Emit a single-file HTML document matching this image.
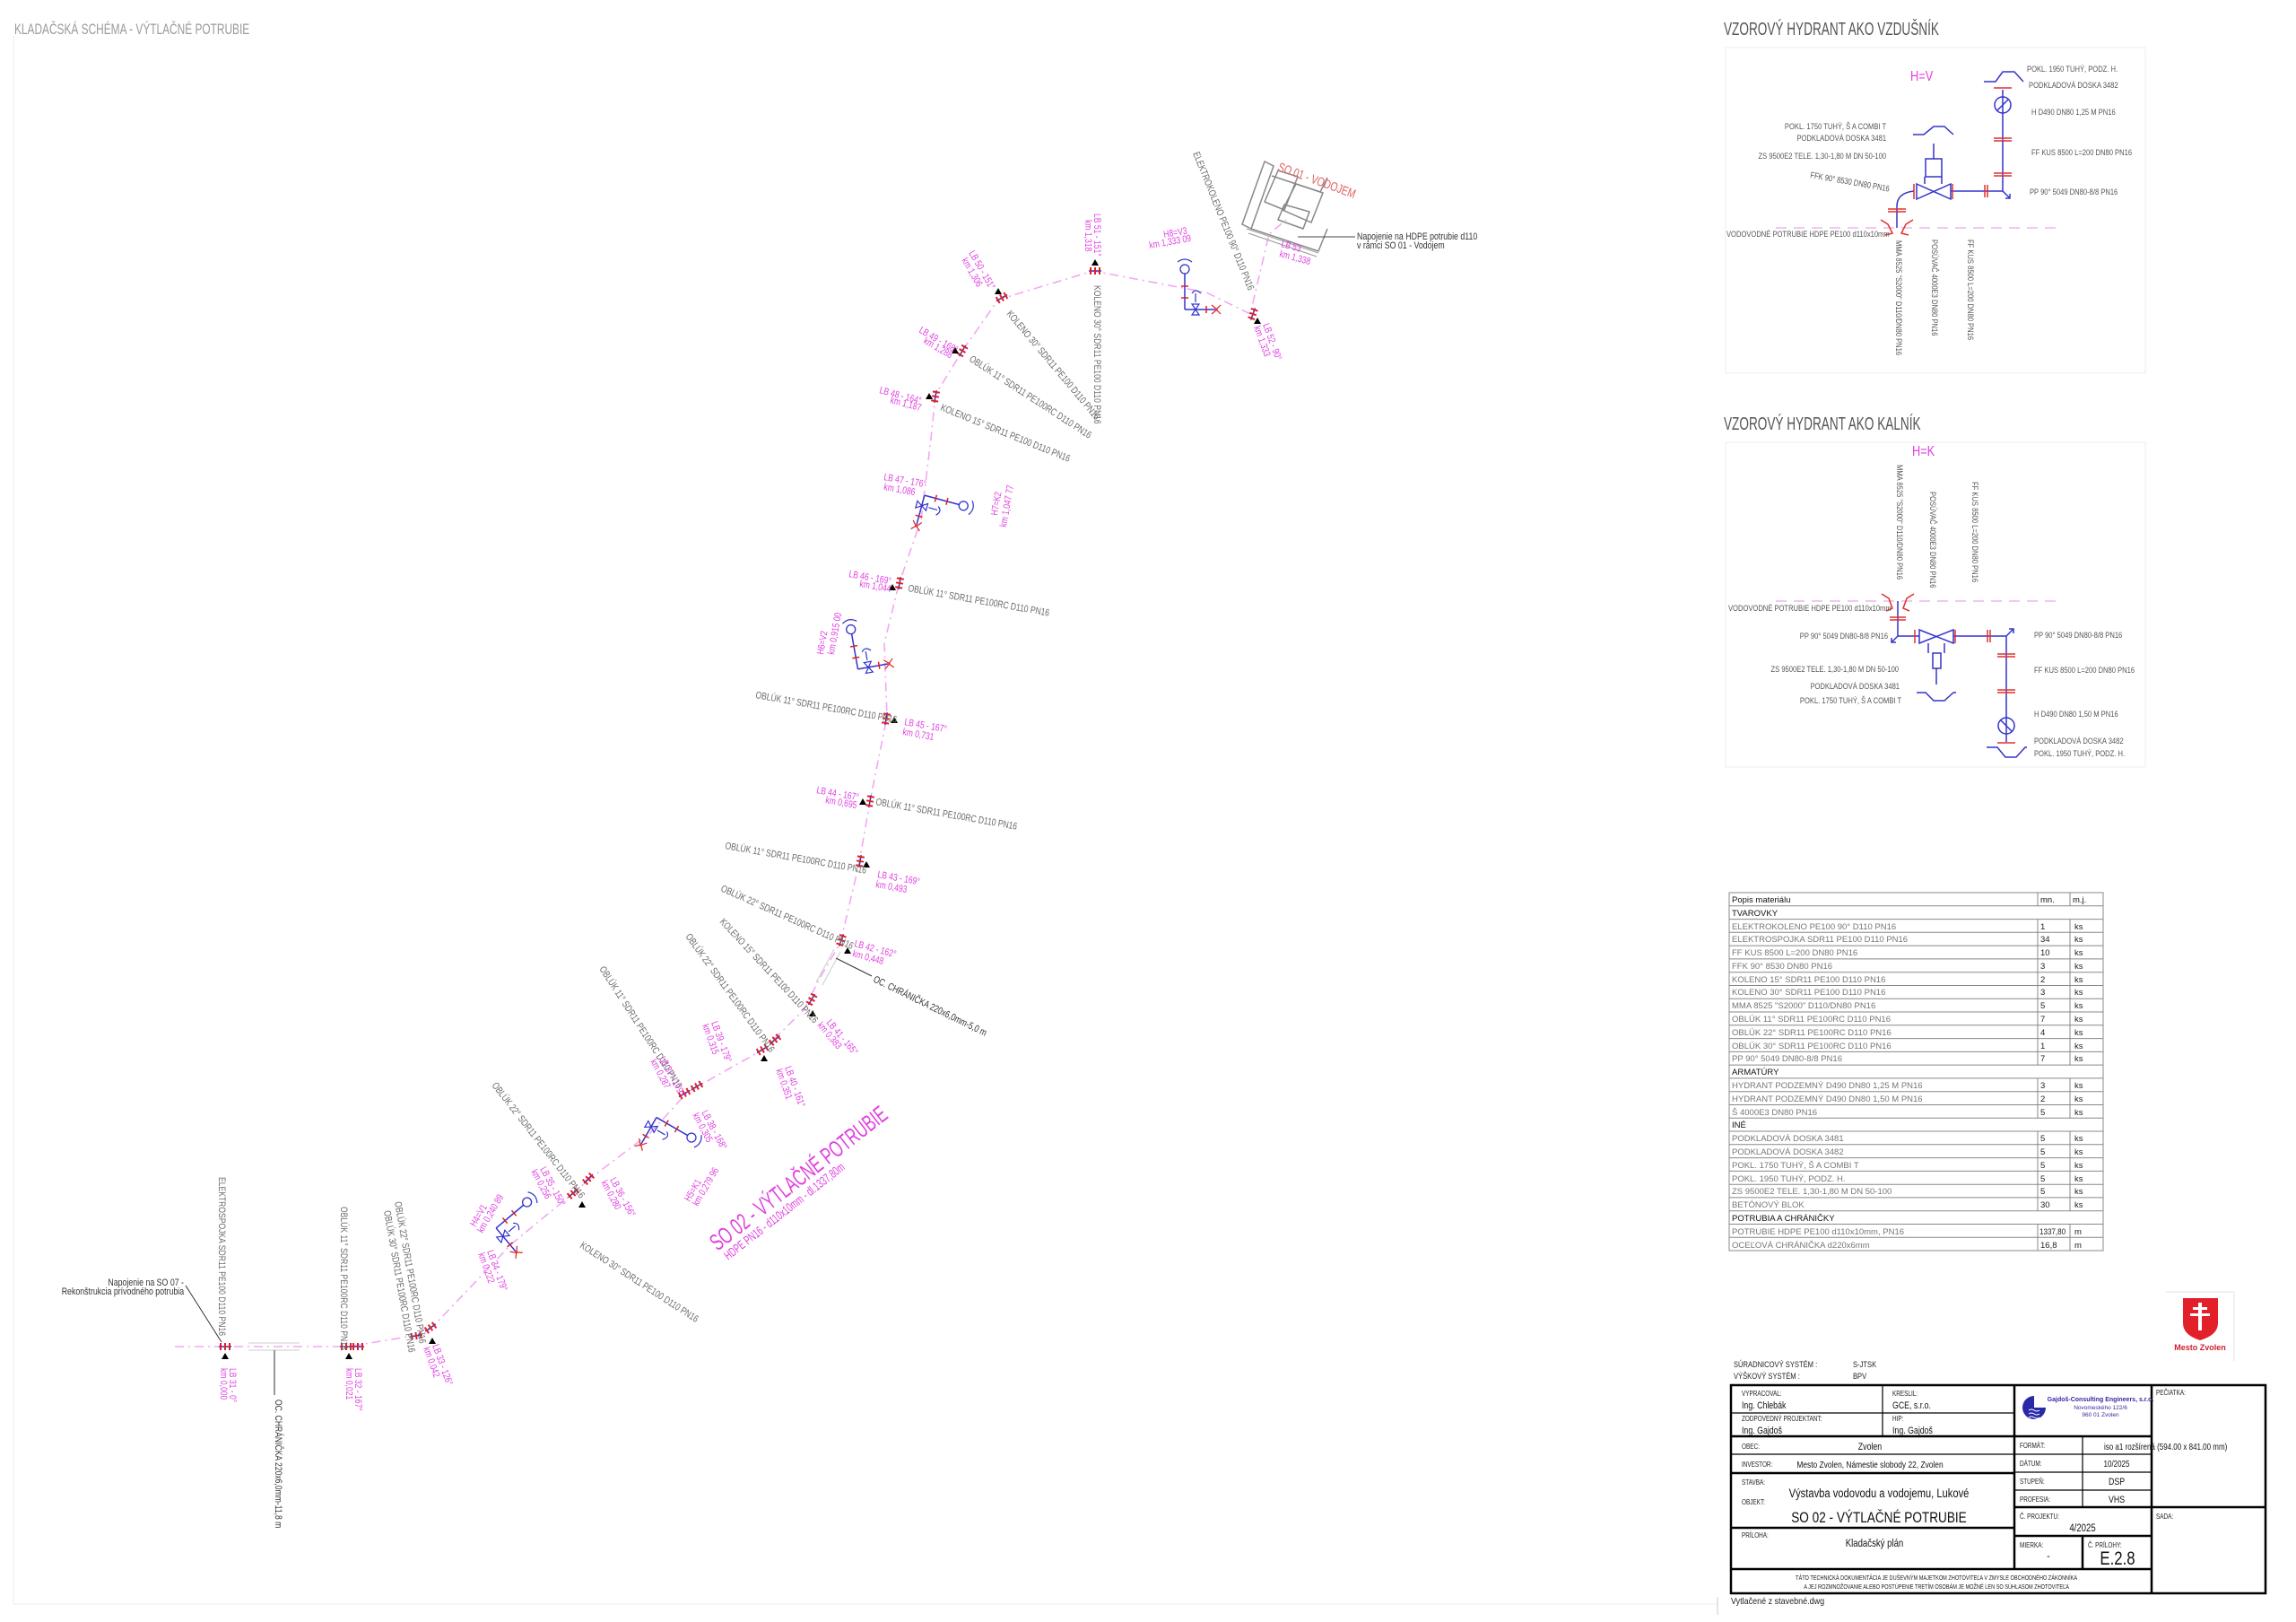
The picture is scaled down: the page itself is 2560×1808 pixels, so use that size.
<!DOCTYPE html>
<html><head><meta charset="utf-8">
<style>
html,body{margin:0;padding:0;background:#fff;}
svg{display:block;}
text{font-family:"Liberation Sans Narrow","Liberation Sans",sans-serif;}
.g{fill:#6a6a6a;font-size:11px;}
.m{fill:#e040e0;font-size:11px;}
.t{fill:#555;font-size:9.5px;}
.cl,.cr,.cc{transform-box:fill-box;transform:scaleX(var(--s,0.8));}
.cl{transform-origin:0% 50%;}
.cr{transform-origin:100% 50%;}
.cc{transform-origin:50% 50%;}
</style></head>
<body>
<svg width="2560" height="1808" viewBox="0 0 2560 1808" xmlns="http://www.w3.org/2000/svg">
<defs>
<g id="fit">
  <line x1="-7" y1="0" x2="7" y2="0" stroke="#3333cc" stroke-width="1.5"/>
  <line x1="-5" y1="-4" x2="-5" y2="4" stroke="#e02020" stroke-width="2"/>
  <line x1="0" y1="-4" x2="0" y2="4" stroke="#e02020" stroke-width="2"/>
  <line x1="5" y1="-4" x2="5" y2="4" stroke="#e02020" stroke-width="2"/>
</g>
<path id="tri" d="M0,-4 L4,3 L-4,3 Z" fill="#000"/>
<g id="hyd">
  <line x1="0" y1="0" x2="0" y2="-34" stroke="#3333cc" stroke-width="1.5"/>
  <line x1="0" y1="-34" x2="40" y2="-34" stroke="#3333cc" stroke-width="1.5"/>
  <line x1="-4" y1="-10" x2="4" y2="-10" stroke="#e02020" stroke-width="1.5"/>
  <line x1="13" y1="-38" x2="13" y2="-30" stroke="#e02020" stroke-width="1.5"/>
  <line x1="26" y1="-38" x2="26" y2="-30" stroke="#e02020" stroke-width="1.5"/>
  <circle cx="45" cy="-34" r="5" fill="none" stroke="#3333cc" stroke-width="1.3"/>
  <path d="M-6,-18 L6,-26 L6,-18 L-6,-26 Z" fill="none" stroke="#3333cc" stroke-width="1.2"/>
  <path d="M8,-22 L18,-22 M18,-26 q6,4 0,10" fill="none" stroke="#3333cc" stroke-width="1.2"/>
  <path d="M53,-42 q6,8 0,16" fill="none" stroke="#3333cc" stroke-width="1.2"/>
  <path d="M-5,-4 L0,2 L5,-4 M-5,6 L0,1 L5,6" fill="none" stroke="#e02020" stroke-width="1.2"/>
</g>
</defs>

<line x1="15" y1="40" x2="15" y2="1788" stroke="#eeeeee" stroke-width="1"/>
<line x1="15" y1="1788" x2="1915" y2="1788" stroke="#eeeeee" stroke-width="1"/>
<line x1="1915" y1="1780" x2="1915" y2="1800" stroke="#cccccc" stroke-width="1"/>
<text x="16" y="38" fill="#9a9a9a" font-size="17" class="cl" style="--s:0.7">KLADAČSKÁ SCHÉMA - VÝTLAČNÉ POTRUBIE</text>

<!-- ROUTE -->
<polyline fill="none" stroke="#f2a8f2" stroke-width="1.6" stroke-dasharray="10,5,2,5"
 points="195,1501 249,1501 388,1501 473,1487 489,1472 571,1386 639,1330 660,1312 725,1263 766,1218 815,1190 851,1170 897,1125 913,1092 937,1051 958,962 970,893 989,799 986,717 1002,652 1027,579 1038,489 1043,440 1073,391 1113,334 1219,302 1345,326 1394,350 1415,261 1434,245"/>
<line x1="277" y1="1497" x2="334" y2="1497" stroke="#cccccc"/>
<line x1="277" y1="1505" x2="334" y2="1505" stroke="#cccccc"/>
<line x1="910" y1="1095" x2="930" y2="1058" stroke="#cccccc"/>
<line x1="917" y1="1098" x2="937" y2="1061" stroke="#cccccc"/>

<use href="#fit" transform="translate(251,1501)"/>
<use href="#fit" transform="translate(386,1501)"/><use href="#fit" transform="translate(399,1501)"/>
<use href="#fit" transform="translate(464,1489) rotate(-10)"/><use href="#fit" transform="translate(480,1480) rotate(-35)"/>
<use href="#fit" transform="translate(639,1330) rotate(-40)"/><use href="#fit" transform="translate(656,1314) rotate(-45)"/>
<use href="#fit" transform="translate(763,1219) rotate(-30)"/><use href="#fit" transform="translate(777,1211) rotate(-30)"/>
<use href="#fit" transform="translate(850,1170) rotate(-30)"/><use href="#fit" transform="translate(864,1159) rotate(-40)"/>
<use href="#fit" transform="translate(905,1114) rotate(-60)"/><use href="#fit" transform="translate(938,1048) rotate(-70)"/>
<use href="#fit" transform="translate(959,960) rotate(-80)"/><use href="#fit" transform="translate(970,893) rotate(-80)"/>
<use href="#fit" transform="translate(988,801) rotate(-80)"/><use href="#fit" transform="translate(1003,650) rotate(-80)"/>
<use href="#fit" transform="translate(1043,442) rotate(-80)"/><use href="#fit" transform="translate(1073,391) rotate(-60)"/>
<use href="#fit" transform="translate(1117,332) rotate(-30)"/><use href="#fit" transform="translate(1221,302)"/>
<use href="#fit" transform="translate(1397,350) rotate(-70)"/>
<use href="#tri" transform="translate(251,1512)"/><use href="#tri" transform="translate(389,1512)"/>
<use href="#tri" transform="translate(482,1495)"/><use href="#tri" transform="translate(649,1343)"/>
<use href="#tri" transform="translate(852,1180)"/><use href="#tri" transform="translate(906,1130)"/>
<use href="#tri" transform="translate(945,1060)"/><use href="#tri" transform="translate(966,964)"/>
<use href="#tri" transform="translate(962,894)"/><use href="#tri" transform="translate(997,803)"/>
<use href="#tri" transform="translate(995,655)"/><use href="#tri" transform="translate(1036,442)"/>
<use href="#tri" transform="translate(1065,391)"/><use href="#tri" transform="translate(1113,325)"/>
<use href="#tri" transform="translate(1221,293)"/><use href="#tri" transform="translate(1402,358)"/>

<use href="#hyd" transform="translate(575,1395) rotate(-40)"/>
<use href="#hyd" transform="translate(715,1275) rotate(30)"/>
<use href="#hyd" transform="translate(990,740) rotate(-100)"/>
<use href="#hyd" transform="translate(1022,585) rotate(15)"/>
<use href="#hyd" transform="translate(1355,345) rotate(-90)"/>

<!-- vodojem -->
<g fill="none" stroke="#888" stroke-width="1.5">
<path d="M1385,250 L1410,180 L1420,185 L1395,255 Z"/>
<path d="M1395,255 L1470,280 L1480,255"/>
<path d="M1410,225 L1425,190 L1447,197 L1432,234 Z"/>
<path d="M1430,234 L1445,205 L1475,215 L1462,248 Z"/>
<path d="M1425,245 L1432,228 L1460,236 L1453,255 Z"/>
<path d="M1418,196 L1472,214 L1480,198"/>
</g>
<g stroke="#999" stroke-width="1">
<line x1="1390" y1="255" x2="1470" y2="282"/><line x1="1392" y1="260" x2="1468" y2="286"/>
</g>
<text transform="translate(1424,190) rotate(20) scale(0.75,1)" fill="#e06060" font-size="14">SO 01 - VODOJEM</text>
<line x1="1447" y1="264" x2="1511" y2="264" stroke="#444" stroke-width="1"/>
<text x="1513" y="267" class="g cl" style="fill:#333">Napojenie na HDPE potrubie d110</text>
<text x="1513" y="277" class="g cl" style="fill:#333">v rámci SO 01 - Vodojem</text>

<!-- route labels gray -->
<text class="g" transform="translate(244,1312) rotate(90) scale(0.78,1)">ELEKTROSPOJKA  SDR11 PE100 D110 PN16</text>
<text x="205" y="1433" class="g cr" text-anchor="end" style="fill:#333">Napojenie na SO 07 -</text>
<text x="205" y="1443" class="g cr" text-anchor="end" style="fill:#333">Rekonštrukcia prívodného potrubia</text>
<line x1="207" y1="1433" x2="247" y2="1496" stroke="#333"/>
<text class="g" transform="translate(307,1560) rotate(90) scale(0.78,1)" style="fill:#333">OC. CHRÁNIČKA 220x6,0mm-11,8 m</text>
<line x1="306" y1="1505" x2="306" y2="1555" stroke="#333"/>
<text class="g" transform="translate(380,1345) rotate(90) scale(0.78,1)">OBLÚK 11°  SDR11 PE100RC D110 PN16</text>
<text class="g" transform="translate(440,1340) rotate(80) scale(0.78,1)">OBLÚK 22°  SDR11 PE100RC D110 PN16</text>
<text class="g" transform="translate(428,1350) rotate(80) scale(0.78,1)">OBLÚK 30°  SDR11 PE100RC D110 PN16</text>
<text class="g" transform="translate(646,1390) rotate(33) scale(0.78,1)">KOLENO 30°  SDR11 PE100 D110 PN16</text>
<text class="g" transform="translate(548,1210) rotate(52) scale(0.78,1)">OBLÚK 22°  SDR11 PE100RC D110 PN16</text>
<text class="g" transform="translate(668,1080) rotate(57) scale(0.78,1)">OBLÚK 11°  SDR11 PE100RC D110 PN16</text>
<text class="g" transform="translate(764,1044) rotate(54) scale(0.78,1)">OBLÚK 22°  SDR11 PE100RC D110 PN16</text>
<text class="g" transform="translate(802,1028) rotate(47) scale(0.78,1)">KOLENO 15°  SDR11 PE100 D110 PN16</text>
<text class="g" transform="translate(803,993) rotate(24) scale(0.78,1)">OBLÚK 22°  SDR11 PE100RC D110 PN16</text>
<text class="g" transform="translate(973,1094) rotate(26) scale(0.78,1)" style="fill:#333">OC. CHRÁNIČKA 220x6,0mm-5,0 m</text>
<line x1="932" y1="1068" x2="972" y2="1088" stroke="#333"/>
<text class="g" transform="translate(808,946) rotate(10) scale(0.78,1)">OBLÚK 11°  SDR11 PE100RC D110 PN16</text>
<text class="g" transform="translate(976,897) rotate(10) scale(0.78,1)">OBLÚK 11°  SDR11 PE100RC D110 PN16</text>
<text class="g" transform="translate(842,778) rotate(10) scale(0.78,1)">OBLÚK 11°  SDR11 PE100RC D110 PN16</text>
<text class="g" transform="translate(1012,659) rotate(10) scale(0.78,1)">OBLÚK 11°  SDR11 PE100RC D110 PN16</text>
<text class="g" transform="translate(1048,457) rotate(22) scale(0.78,1)">KOLENO 15°  SDR11 PE100 D110 PN16</text>
<text class="g" transform="translate(1080,402) rotate(33) scale(0.78,1)">OBLÚK 11°  SDR11 PE100RC D110 PN16</text>
<text class="g" transform="translate(1122,350) rotate(50) scale(0.78,1)">KOLENO 30°  SDR11 PE100 D110 PN16</text>
<text class="g" transform="translate(1220,318) rotate(90) scale(0.78,1)">KOLENO 30°  SDR11 PE100 D110 PN16</text>
<text class="g" transform="translate(1330,171) rotate(68) scale(0.78,1)">ELEKTROKOLENO  PE100 90° D110 PN16</text>

<g class="m">
<text transform="translate(256,1525) rotate(90) scale(0.78,1)">LB 31 - 0°</text><text transform="translate(246,1525) rotate(90) scale(0.78,1)">km 0,000</text>
<text transform="translate(396,1525) rotate(90) scale(0.78,1)">LB 32 - 167°</text><text transform="translate(386,1525) rotate(90) scale(0.78,1)">km 0,021</text>
<text transform="translate(482,1500) rotate(70) scale(0.78,1)">LB 33 - 126°</text><text transform="translate(472,1503) rotate(70) scale(0.78,1)">km 0,042</text>
<text transform="translate(543,1395) rotate(70) scale(0.78,1)">LB 34 - 179°</text><text transform="translate(533,1398) rotate(70) scale(0.78,1)">km 0,222</text>
<text transform="translate(602,1303) rotate(62) scale(0.78,1)">LB 35 - 150°</text><text transform="translate(592,1306) rotate(62) scale(0.78,1)">km 0,256</text>
<text transform="translate(680,1315) rotate(62) scale(0.78,1)">LB 36 - 156°</text><text transform="translate(670,1318) rotate(62) scale(0.78,1)">km 0,280</text>
<text transform="translate(735,1180) rotate(62) scale(0.78,1)">LB 37 - 179°</text><text transform="translate(725,1183) rotate(62) scale(0.78,1)">km 0,287</text>
<text transform="translate(782,1240) rotate(62) scale(0.78,1)">LB 38 - 168°</text><text transform="translate(772,1243) rotate(62) scale(0.78,1)">km 0,305</text>
<text transform="translate(793,1140) rotate(70) scale(0.78,1)">LB 39 - 179°</text><text transform="translate(783,1143) rotate(70) scale(0.78,1)">km 0,315</text>
<text transform="translate(875,1190) rotate(70) scale(0.78,1)">LB 40 - 161°</text><text transform="translate(865,1193) rotate(70) scale(0.78,1)">km 0,351</text>
<text transform="translate(921,1140) rotate(50) scale(0.78,1)">LB 41 - 165°</text><text transform="translate(911,1143) rotate(50) scale(0.78,1)">km 0,383</text>
<text transform="translate(952,1055) rotate(15) scale(0.78,1)">LB 42 - 162°</text><text transform="translate(950,1066) rotate(15) scale(0.78,1)">km 0,448</text>
<text transform="translate(978,978) rotate(10) scale(0.78,1)">LB 43 - 169°</text><text transform="translate(976,989) rotate(10) scale(0.78,1)">km 0,493</text>
<text transform="translate(910,884) rotate(10) scale(0.78,1)">LB 44 - 167°</text><text transform="translate(920,895) rotate(10) scale(0.78,1)">km 0,695</text>
<text transform="translate(1008,808) rotate(10) scale(0.78,1)">LB 45 - 167°</text><text transform="translate(1006,819) rotate(10) scale(0.78,1)">km 0,731</text>
<text transform="translate(946,643) rotate(10) scale(0.78,1)">LB 46 - 169°</text><text transform="translate(958,654) rotate(10) scale(0.78,1)">km 1,044</text>
<text transform="translate(985,535) rotate(10) scale(0.78,1)">LB 47 - 176°</text><text transform="translate(985,546) rotate(10) scale(0.78,1)">km 1,086</text>
<text transform="translate(980,438) rotate(15) scale(0.78,1)">LB 48 - 164°</text><text transform="translate(992,449) rotate(15) scale(0.78,1)">km 1,187</text>
<text transform="translate(1024,370) rotate(30) scale(0.78,1)">LB 49 - 168°</text><text transform="translate(1029,382) rotate(30) scale(0.78,1)">km 1,288</text>
<text transform="translate(1080,282) rotate(60) scale(0.78,1)">LB 50 - 151°</text><text transform="translate(1072,290) rotate(60) scale(0.78,1)">km 1,306</text>
<text transform="translate(1220,238) rotate(90) scale(0.78,1)">LB 51 - 151°</text><text transform="translate(1210,245) rotate(90) scale(0.78,1)">km 1,318</text>
<text transform="translate(1298,265) rotate(-10) scale(0.78,1)">H8=V3</text><text transform="translate(1282,277) rotate(-10) scale(0.78,1)">km 1,333 09</text>
<text transform="translate(1408,362) rotate(70) scale(0.78,1)">LB 52 - 90°</text><text transform="translate(1398,365) rotate(70) scale(0.78,1)">km 1,333</text>
<text transform="translate(1428,275) rotate(15) scale(0.78,1)">LB 53</text><text transform="translate(1426,286) rotate(15) scale(0.78,1)">km 1,338</text>
<text transform="translate(1112,575) rotate(-80) scale(0.78,1)">H7=K2</text><text transform="translate(1122,588) rotate(-80) scale(0.78,1)">km 1,047 77</text>
<text transform="translate(918,730) rotate(-80) scale(0.78,1)">H6=V2</text><text transform="translate(930,730) rotate(-80) scale(0.78,1)">km 0,915 00</text>
<text transform="translate(769,1340) rotate(-60) scale(0.78,1)">H5=K1</text><text transform="translate(778,1345) rotate(-60) scale(0.78,1)">km 0,279 96</text>
<text transform="translate(530,1368) rotate(-60) scale(0.78,1)">H4=V1</text><text transform="translate(538,1375) rotate(-60) scale(0.78,1)">km 0,240 89</text>
</g>
<text transform="translate(800,1395) rotate(-38) scale(0.65,1)" fill="#e040e0" font-size="26">SO 02 - VÝTLAČNÉ POTRUBIE</text>
<text transform="translate(812,1405) rotate(-38) scale(0.65,1)" fill="#e040e0" font-size="14">HDPE PN16 - d110x10mm - dl.1337,80m</text>

<!-- HYDRANT V -->
<text x="1922" y="39" fill="#555" font-size="20" class="cl" style="--s:0.68">VZOROVÝ  HYDRANT  AKO  VZDUŠNÍK</text>
<rect x="1924" y="53" width="468" height="363" fill="none" stroke="#ececec"/>
<text x="2130" y="90" fill="#e040e0" font-size="16" class="cl">H=V</text>
<line x1="1980" y1="254" x2="2297" y2="254" stroke="#f4b0f4" stroke-width="1.5" stroke-dasharray="12,8"/>
<g fill="none" stroke="#3333cc" stroke-width="1.5">
<line x1="2115" y1="254" x2="2115" y2="230"/>
<path d="M2115,230 q0,-15 19,-17"/>
<path d="M2137,205 L2175,222 L2175,205 L2137,222 Z"/>
<rect x="2147" y="177" width="18" height="20"/><line x1="2156" y1="160" x2="2156" y2="177"/>
<line x1="2146" y1="197" x2="2146" y2="205"/><line x1="2165" y1="197" x2="2165" y2="205"/>
<line x1="2175" y1="213" x2="2233" y2="213"/><line x1="2233" y1="213" x2="2233" y2="100"/>
<circle cx="2233" cy="117" r="9"/><line x1="2227" y1="123" x2="2239" y2="111"/>
<path d="M2233,213 L2241,221 M2236,221 L2241,221 L2241,216"/>
<path d="M2133,150 L2145,150 L2156,141 L2168,141 L2178,150 L2178,150"/>
<path d="M2212,91 L2225,91 L2233,80 L2246,80 L2256,91 L2256,91"/>
</g>
<g stroke="#e03030" stroke-width="1.5" fill="none">
<line x1="2105" y1="233" x2="2125" y2="233"/><line x1="2105" y1="236" x2="2125" y2="236"/>
<line x1="2134" y1="205" x2="2134" y2="222"/><line x1="2177" y1="205" x2="2177" y2="222"/>
<line x1="2213" y1="206" x2="2213" y2="220"/><line x1="2216" y1="206" x2="2216" y2="220"/>
<line x1="2223" y1="154" x2="2243" y2="154"/><line x1="2223" y1="157" x2="2243" y2="157"/>
<line x1="2223" y1="193" x2="2243" y2="193"/><line x1="2223" y1="196" x2="2243" y2="196"/>
<line x1="2223" y1="98" x2="2243" y2="98"/>
<path d="M2097,245 L2105,250 L2110,260 L2102,262 M2133,245 L2125,250 L2120,260 L2128,262"/>
</g>
<g class="t">
<text x="2260" y="80" class="cl">POKL. 1950 TUHÝ, PODZ. H.</text>
<text x="2262" y="98" class="cl">PODKLADOVÁ DOSKA 3482</text>
<text x="2265" y="128" class="cl">H D490 DN80 1,25 M PN16</text>
<text x="2265" y="173" class="cl">FF KUS 8500 L=200 DN80 PN16</text>
<text x="2263" y="217" class="cl">PP 90° 5049 DN80-8/8 PN16</text>
<text x="2103" y="144" text-anchor="end" class="cr">POKL. 1750 TUHÝ, Š A COMBI T</text>
<text x="2103" y="157" text-anchor="end" class="cr">PODKLADOVÁ DOSKA 3481</text>
<text x="2103" y="177" text-anchor="end" class="cr">ZS 9500E2 TELE. 1,30-1,80 M DN 50-100</text>
<text transform="translate(2018,198) rotate(10) scale(0.8,1)">FFK 90° 8530 DN80 PN16</text>
<text x="1925" y="264" class="cl">VODOVODNÉ POTRUBIE HDPE PE100 d110x10mm</text>
<text transform="translate(2114,268) rotate(90) scale(0.8,1)">MMA 8525 "S2000" D110/DN80 PN16</text>
<text transform="translate(2154,267) rotate(90) scale(0.8,1)">POSÚVAČ 4000E3 DN80 PN16</text>
<text transform="translate(2194,267) rotate(90) scale(0.8,1)">FF KUS 8500 L=200 DN80 PN16</text>
</g>

<!-- HYDRANT K -->
<text x="1922" y="479" fill="#555" font-size="20" class="cl" style="--s:0.68">VZOROVÝ  HYDRANT  AKO  KALNÍK</text>
<rect x="1924" y="493" width="468" height="362" fill="none" stroke="#ececec"/>
<text x="2132" y="508" fill="#e040e0" font-size="16" class="cl">H=K</text>
<line x1="1980" y1="670" x2="2297" y2="670" stroke="#f4b0f4" stroke-width="1.5" stroke-dasharray="12,8"/>
<g fill="none" stroke="#3333cc" stroke-width="1.5">
<line x1="2116" y1="670" x2="2116" y2="709"/><line x1="2116" y1="709" x2="2140" y2="709"/>
<path d="M2116,709 L2109,716 M2109,711 L2109,716 L2114,716"/>
<path d="M2140,702 L2178,717 L2178,702 L2140,717 Z"/>
<line x1="2178" y1="709" x2="2237" y2="709"/>
<rect x="2155" y="728" width="9" height="17"/><line x1="2159" y1="745" x2="2159" y2="763"/>
<line x1="2150" y1="717" x2="2150" y2="728"/><line x1="2168" y1="717" x2="2168" y2="728"/>
<line x1="2237" y1="709" x2="2237" y2="827"/>
<circle cx="2237" cy="809" r="9"/><line x1="2231" y1="803" x2="2243" y2="815"/>
<path d="M2237,709 L2245,701 M2240,701 L2245,701 L2245,706"/>
<path d="M2137,772 L2147,772 L2156,781 L2168,781 L2178,772 L2181,772"/>
<path d="M2215,833 L2227,833 L2236,844 L2248,844 L2258,833 L2260,833"/>
</g>
<g stroke="#e03030" stroke-width="1.5" fill="none">
<line x1="2107" y1="688" x2="2125" y2="688"/><line x1="2107" y1="691" x2="2125" y2="691"/>
<line x1="2135" y1="702" x2="2135" y2="717"/><line x1="2180" y1="702" x2="2180" y2="717"/>
<line x1="2216" y1="702" x2="2216" y2="716"/><line x1="2219" y1="702" x2="2219" y2="716"/>
<line x1="2227" y1="729" x2="2247" y2="729"/><line x1="2227" y1="732" x2="2247" y2="732"/>
<line x1="2227" y1="769" x2="2247" y2="769"/><line x1="2227" y1="772" x2="2247" y2="772"/>
<line x1="2227" y1="828" x2="2247" y2="828"/>
<path d="M2098,662 L2106,667 L2110,678 L2103,681 M2134,662 L2126,667 L2122,678 L2129,681"/>
</g>
<g class="t">
<text transform="translate(2115,518) rotate(90) scale(0.8,1)">MMA 8525 "S2000" D110/DN80 PN16</text>
<text transform="translate(2152,548) rotate(90) scale(0.8,1)">POSÚVAČ 4000E3 DN80 PN16</text>
<text transform="translate(2199,537) rotate(90) scale(0.8,1)">FF KUS 8500 L=200 DN80 PN16</text>
<text x="1927" y="681" class="cl">VODOVODNÉ POTRUBIE HDPE PE100 d110x10mm</text>
<text x="2105" y="712" text-anchor="end" class="cr">PP 90° 5049 DN80-8/8 PN16</text>
<text x="2117" y="749" text-anchor="end" class="cr">ZS 9500E2 TELE. 1,30-1,80 M DN 50-100</text>
<text x="2118" y="768" text-anchor="end" class="cr">PODKLADOVÁ DOSKA 3481</text>
<text x="2120" y="784" text-anchor="end" class="cr">POKL. 1750 TUHÝ, Š A COMBI T</text>
<text x="2268" y="711" class="cl">PP 90° 5049 DN80-8/8 PN16</text>
<text x="2268" y="750" class="cl">FF KUS 8500 L=200 DN80 PN16</text>
<text x="2268" y="799" class="cl">H D490 DN80 1,50 M PN16</text>
<text x="2268" y="829" class="cl">PODKLADOVÁ DOSKA 3482</text>
<text x="2268" y="843" class="cl">POKL. 1950 TUHÝ, PODZ. H.</text>
</g>

<!-- MATERIAL TABLE -->
<rect x="1928" y="995" width="417" height="399" fill="none" stroke="#888"/>
<g stroke="#888" stroke-width="1">
<line x1="1928" y1="1009.8" x2="2345" y2="1009.8"/>
<line x1="1928" y1="1024.6" x2="2345" y2="1024.6"/>
<line x1="1928" y1="1039.3" x2="2345" y2="1039.3"/>
<line x1="1928" y1="1054.1" x2="2345" y2="1054.1"/>
<line x1="1928" y1="1068.9" x2="2345" y2="1068.9"/>
<line x1="1928" y1="1083.7" x2="2345" y2="1083.7"/>
<line x1="1928" y1="1098.5" x2="2345" y2="1098.5"/>
<line x1="1928" y1="1113.2" x2="2345" y2="1113.2"/>
<line x1="1928" y1="1128.0" x2="2345" y2="1128.0"/>
<line x1="1928" y1="1142.8" x2="2345" y2="1142.8"/>
<line x1="1928" y1="1157.6" x2="2345" y2="1157.6"/>
<line x1="1928" y1="1172.4" x2="2345" y2="1172.4"/>
<line x1="1928" y1="1187.1" x2="2345" y2="1187.1"/>
<line x1="1928" y1="1201.9" x2="2345" y2="1201.9"/>
<line x1="1928" y1="1216.7" x2="2345" y2="1216.7"/>
<line x1="1928" y1="1231.5" x2="2345" y2="1231.5"/>
<line x1="1928" y1="1246.3" x2="2345" y2="1246.3"/>
<line x1="1928" y1="1261.0" x2="2345" y2="1261.0"/>
<line x1="1928" y1="1275.8" x2="2345" y2="1275.8"/>
<line x1="1928" y1="1290.6" x2="2345" y2="1290.6"/>
<line x1="1928" y1="1305.4" x2="2345" y2="1305.4"/>
<line x1="1928" y1="1320.2" x2="2345" y2="1320.2"/>
<line x1="1928" y1="1334.9" x2="2345" y2="1334.9"/>
<line x1="1928" y1="1349.7" x2="2345" y2="1349.7"/>
<line x1="1928" y1="1364.5" x2="2345" y2="1364.5"/>
<line x1="1928" y1="1379.3" x2="2345" y2="1379.3"/>
<line x1="2272" y1="995" x2="2272" y2="1009.8"/><line x1="2308" y1="995" x2="2308" y2="1009.8"/>
<line x1="2272" y1="1024.6" x2="2272" y2="1187.1"/><line x1="2308" y1="1024.6" x2="2308" y2="1187.1"/>
<line x1="2272" y1="1201.9" x2="2272" y2="1246.3"/><line x1="2308" y1="1201.9" x2="2308" y2="1246.3"/>
<line x1="2272" y1="1261.0" x2="2272" y2="1349.7"/><line x1="2308" y1="1261.0" x2="2308" y2="1349.7"/>
<line x1="2272" y1="1364.5" x2="2272" y2="1394"/><line x1="2308" y1="1364.5" x2="2308" y2="1394"/>
</g>
<g font-size="9.5" fill="#777">
<text x="1931" y="1006" fill="#111">Popis materiálu</text><text x="2275" y="1006" fill="#111">mn.</text><text x="2311" y="1006" fill="#111">m.j.</text>
<text x="1931" y="1021" fill="#111">TVAROVKY</text>
<text x="1931" y="1036">ELEKTROKOLENO  PE100 90° D110 PN16</text>
<text x="1931" y="1050">ELEKTROSPOJKA  SDR11 PE100 D110 PN16</text>
<text x="1931" y="1065">FF KUS 8500 L=200 DN80 PN16</text>
<text x="1931" y="1080">FFK 90° 8530 DN80 PN16</text>
<text x="1931" y="1095">KOLENO 15°  SDR11 PE100 D110 PN16</text>
<text x="1931" y="1109">KOLENO 30°  SDR11 PE100 D110 PN16</text>
<text x="1931" y="1124">MMA 8525 "S2000" D110/DN80 PN16</text>
<text x="1931" y="1139">OBLÚK 11°  SDR11 PE100RC D110 PN16</text>
<text x="1931" y="1154">OBLÚK 22°  SDR11 PE100RC D110 PN16</text>
<text x="1931" y="1169">OBLÚK 30°  SDR11 PE100RC D110 PN16</text>
<text x="1931" y="1183">PP 90° 5049 DN80-8/8 PN16</text>
<text x="1931" y="1198" fill="#111">ARMATÚRY</text>
<text x="1931" y="1213">HYDRANT PODZEMNÝ D490 DN80 1,25 M PN16</text>
<text x="1931" y="1228">HYDRANT PODZEMNÝ D490 DN80 1,50 M PN16</text>
<text x="1931" y="1243">Š 4000E3 DN80 PN16</text>
<text x="1931" y="1257" fill="#111">INÉ</text>
<text x="1931" y="1272">PODKLADOVÁ DOSKA 3481</text>
<text x="1931" y="1287">PODKLADOVÁ DOSKA 3482</text>
<text x="1931" y="1302">POKL. 1750 TUHÝ, Š A COMBI T</text>
<text x="1931" y="1317">POKL. 1950 TUHÝ, PODZ. H.</text>
<text x="1931" y="1331">ZS 9500E2 TELE. 1,30-1,80 M DN 50-100</text>
<text x="1931" y="1346">BETÓNOVÝ BLOK</text>
<text x="1931" y="1361" fill="#111">POTRUBIA A CHRÁNIČKY</text>
<text x="1931" y="1376">POTRUBIE HDPE PE100 d110x10mm, PN16</text>
<text x="1931" y="1391">OCEĽOVÁ CHRÁNIČKA d220x6mm</text>
</g>
<g font-size="9.5" fill="#222">
<text x="2275" y="1036">1</text><text x="2275" y="1050">34</text><text x="2275" y="1065">10</text><text x="2275" y="1080">3</text>
<text x="2275" y="1095">2</text><text x="2275" y="1109">3</text><text x="2275" y="1124">5</text><text x="2275" y="1139">7</text>
<text x="2275" y="1154">4</text><text x="2275" y="1169">1</text><text x="2275" y="1183">7</text>
<text x="2275" y="1213">3</text><text x="2275" y="1228">2</text><text x="2275" y="1243">5</text>
<text x="2275" y="1272">5</text><text x="2275" y="1287">5</text><text x="2275" y="1302">5</text><text x="2275" y="1317">5</text>
<text x="2275" y="1331">5</text><text x="2275" y="1346">30</text>
<text x="2274" y="1376" class="cl" style="--s:0.85">1337,80</text><text x="2275" y="1391">16,8</text>
<text x="2313" y="1036">ks</text><text x="2313" y="1050">ks</text><text x="2313" y="1065">ks</text><text x="2313" y="1080">ks</text>
<text x="2313" y="1095">ks</text><text x="2313" y="1109">ks</text><text x="2313" y="1124">ks</text><text x="2313" y="1139">ks</text>
<text x="2313" y="1154">ks</text><text x="2313" y="1169">ks</text><text x="2313" y="1183">ks</text>
<text x="2313" y="1213">ks</text><text x="2313" y="1228">ks</text><text x="2313" y="1243">ks</text>
<text x="2313" y="1272">ks</text><text x="2313" y="1287">ks</text><text x="2313" y="1302">ks</text><text x="2313" y="1317">ks</text>
<text x="2313" y="1331">ks</text><text x="2313" y="1346">ks</text><text x="2313" y="1376">m</text><text x="2313" y="1391">m</text>
</g>

<!-- LOGO Mesto Zvolen -->
<line x1="2415" y1="1440" x2="2491" y2="1440" stroke="#e8e0e0"/>
<line x1="2491" y1="1440" x2="2491" y2="1517" stroke="#e8e0e0"/>
<path d="M2434,1447 L2473,1447 L2473,1475 Q2473,1488 2453,1494 Q2434,1488 2434,1475 Z" fill="#e3202a"/>
<path d="M2451,1452 h4 v5 h6 v3 h-6 v4 h9 v3 h-9 v16 h-4 v-16 h-9 v-3 h9 v-4 h-6 v-3 h6 Z" fill="#fff"/>
<text x="2453" y="1505" text-anchor="middle" fill="#d02030" font-size="9" font-weight="bold" style="font-family:'Liberation Sans',sans-serif">Mesto Zvolen</text>

<!-- TITLE BLOCK -->
<g>
<text x="1933" y="1524" font-size="9.5" fill="#222" class="cl">SÚRADNICOVÝ SYSTÉM :</text><text x="2066" y="1524" font-size="9.5" fill="#222" class="cl">S-JTSK</text>
<text x="1933" y="1537" font-size="9.5" fill="#222" class="cl">VÝŠKOVÝ SYSTÉM :</text><text x="2066" y="1537" font-size="9.5" fill="#222" class="cl">BPV</text>
<g stroke="#000" fill="none">
<rect x="1930" y="1544" width="596" height="232" stroke-width="2.5"/>
<line x1="2246" y1="1544" x2="2246" y2="1749" stroke-width="2.5"/>
<line x1="2399" y1="1544" x2="2399" y2="1776" stroke-width="2.5"/>
<line x1="2099" y1="1544" x2="2099" y2="1601" stroke-width="1.2"/>
<line x1="1930" y1="1575" x2="2246" y2="1575" stroke-width="1.2"/>
<line x1="1930" y1="1601" x2="2399" y2="1601" stroke-width="2.5"/>
<line x1="1930" y1="1621" x2="2246" y2="1621" stroke-width="1.2"/>
<line x1="1930" y1="1642" x2="2246" y2="1642" stroke-width="2.5"/>
<line x1="1930" y1="1703" x2="2246" y2="1703" stroke-width="2.5"/>
<line x1="1930" y1="1749" x2="2399" y2="1749" stroke-width="2.5"/>
<line x1="2322" y1="1601" x2="2322" y2="1680" stroke-width="1.2"/>
<line x1="2246" y1="1621" x2="2399" y2="1621" stroke-width="1.2"/>
<line x1="2246" y1="1641" x2="2399" y2="1641" stroke-width="1.2"/>
<line x1="2246" y1="1661" x2="2399" y2="1661" stroke-width="1.2"/>
<line x1="2246" y1="1680" x2="2526" y2="1680" stroke-width="2.5"/>
<line x1="2246" y1="1712" x2="2399" y2="1712" stroke-width="2.5"/>
<line x1="2322" y1="1712" x2="2322" y2="1749" stroke-width="2.5"/>
</g>
<g font-size="8" fill="#222">
<text x="1942" y="1556" class="cl">VYPRACOVAL:</text><text x="2110" y="1556" class="cl">KRESLIL:</text>
<text x="1942" y="1584" class="cl">ZODPOVEDNÝ PROJEKTANT:</text><text x="2110" y="1584" class="cl">HIP:</text>
<text x="1942" y="1615" class="cl">OBEC:</text><text x="1942" y="1635" class="cl">INVESTOR:</text>
<text x="1942" y="1655" class="cl">STAVBA:</text><text x="1942" y="1677" class="cl">OBJEKT:</text>
<text x="1942" y="1714" class="cl">PRÍLOHA:</text>
<text x="2252" y="1614" class="cl">FORMÁT:</text><text x="2252" y="1634" class="cl">DÁTUM:</text>
<text x="2252" y="1654" class="cl">STUPEŇ:</text><text x="2252" y="1674" class="cl">PROFESIA:</text>
<text x="2252" y="1693" class="cl">Č. PROJEKTU:</text><text x="2252" y="1725" class="cl">MIERKA:</text><text x="2328" y="1725" class="cl">Č. PRÍLOHY:</text>
<text x="2404" y="1555" class="cl">PEČIATKA:</text><text x="2404" y="1693" class="cl">SADA:</text>
</g>
<g font-size="11" fill="#111">
<text x="1942" y="1570" class="cl">Ing. Chlebák</text><text x="2110" y="1570" class="cl">GCE, s.r.o.</text>
<text x="1942" y="1598" class="cl">Ing. Gajdoš</text><text x="2110" y="1598" class="cl">Ing. Gajdoš</text>
<text x="2085" y="1616" text-anchor="middle" class="cc">Zvolen</text>
<text x="2085" y="1636" text-anchor="middle" font-size="10.5" class="cc">Mesto Zvolen, Námestie slobody 22, Zvolen</text>
<text x="2095" y="1669" text-anchor="middle" font-size="14" class="cc">Výstavba vodovodu a vodojemu, Lukové</text>
<text x="2095" y="1697" text-anchor="middle" font-size="17" class="cc">SO 02 - VÝTLAČNÉ POTRUBIE</text>
<text x="2090" y="1724" text-anchor="middle" font-size="12" class="cc">Kladačský plán</text>
<text x="2346" y="1616" font-size="10" class="cl">iso a1 rozšírená (594.00 x 841.00 mm)</text>
<text x="2360" y="1635" text-anchor="middle" font-size="10" class="cc">10/2025</text>
<text x="2360" y="1655" text-anchor="middle" class="cc">DSP</text>
<text x="2360" y="1675" text-anchor="middle" class="cc">VHS</text>
<text x="2322" y="1707" text-anchor="middle" font-size="12" class="cc">4/2025</text>
<text x="2284" y="1738" text-anchor="middle">-</text>
<text x="2361" y="1744" text-anchor="middle" font-size="21" class="cc">E.2.8</text>
</g>
<g font-size="7" fill="#222" text-anchor="middle">
<text x="2159" y="1761" class="cc">TÁTO TECHNICKÁ DOKUMENTÁCIA JE DUŠEVNÝM MAJETKOM ZHOTOVITEĽA V ZMYSLE OBCHODNÉHO ZÁKONNÍKA</text>
<text x="2159" y="1771" class="cc">A JEJ ROZMNOŽOVANIE ALEBO POSTÚPENIE TRETÍM OSOBÁM JE MOŽNÉ LEN SO SÚHLASOM ZHOTOVITEĽA</text>
</g>
<text x="1930" y="1788" font-size="10" fill="#222" class="cl" style="--s:0.9">Vytlačené z stavebné.dwg</text>
<path d="M2268,1556 A13,13 0 1,0 2281,1569 L2268,1569 Z" fill="#2a2aa8"/>
<path d="M2262,1572 q3,-2 6,0 t6,0 M2262,1576 q3,-2 6,0 t6,0 M2262,1580 q3,-2 6,0 t6,0" stroke="#fff" stroke-width="1" fill="none"/>
<g text-anchor="middle" fill="#3a2aa0" style="font-family:'Liberation Serif',serif">
<text x="2342" y="1562" font-size="7" font-weight="bold">Gajdoš-Consulting Engineers, s.r.o.</text>
<text x="2342" y="1571" font-size="6.5">Novomeského 122/6</text>
<text x="2342" y="1579" font-size="6.5">960 01 Zvolen</text>
</g>
</g>
</svg>
</body></html>
